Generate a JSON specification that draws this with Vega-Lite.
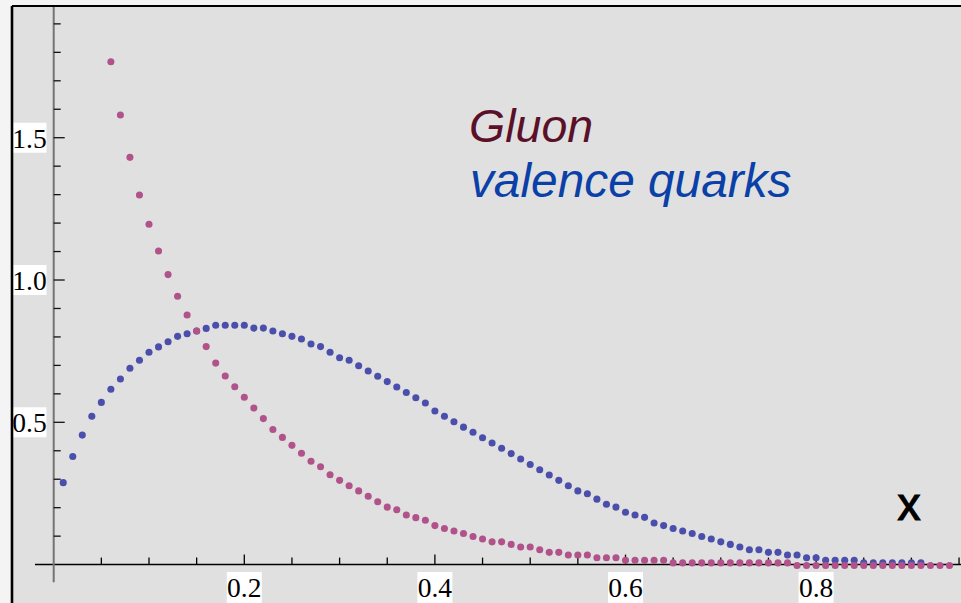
{
  "$schema": "https://vega.github.io/schema/vega-lite/v6.json",
  "width": 949,
  "height": 597,
  "autosize": "none",
  "padding": {"left": 12, "top": 6, "right": 0, "bottom": 0},
  "background": "#f4f4f4",
  "config": {"view": {"fill": "#e0e0e0", "stroke": null}, "axis": {"disable": true}, "legend": {"disable": true}},
  "datasets": {
    "pts": [
      {"s":"valence","x":0.01,"y":0.288},{"s":"valence","x":0.02,"y":0.380},{"s":"valence","x":0.03,"y":0.455},{"s":"valence","x":0.04,"y":0.521},{"s":"valence","x":0.05,"y":0.570},
      {"s":"valence","x":0.06,"y":0.616},{"s":"valence","x":0.07,"y":0.652},{"s":"valence","x":0.08,"y":0.690},{"s":"valence","x":0.09,"y":0.718},{"s":"valence","x":0.10,"y":0.746},
      {"s":"valence","x":0.11,"y":0.765},{"s":"valence","x":0.12,"y":0.783},{"s":"valence","x":0.13,"y":0.802},{"s":"valence","x":0.14,"y":0.811},{"s":"valence","x":0.15,"y":0.821},
      {"s":"valence","x":0.16,"y":0.830},{"s":"valence","x":0.17,"y":0.841},{"s":"valence","x":0.18,"y":0.841},{"s":"valence","x":0.19,"y":0.841},{"s":"valence","x":0.20,"y":0.841},
      {"s":"valence","x":0.21,"y":0.831},{"s":"valence","x":0.22,"y":0.831},{"s":"valence","x":0.23,"y":0.821},{"s":"valence","x":0.24,"y":0.811},{"s":"valence","x":0.25,"y":0.802},
      {"s":"valence","x":0.26,"y":0.793},{"s":"valence","x":0.27,"y":0.775},{"s":"valence","x":0.28,"y":0.766},{"s":"valence","x":0.29,"y":0.746},{"s":"valence","x":0.30,"y":0.727},
      {"s":"valence","x":0.31,"y":0.718},{"s":"valence","x":0.32,"y":0.699},{"s":"valence","x":0.33,"y":0.680},{"s":"valence","x":0.34,"y":0.662},{"s":"valence","x":0.35,"y":0.643},
      {"s":"valence","x":0.36,"y":0.624},{"s":"valence","x":0.37,"y":0.605},{"s":"valence","x":0.38,"y":0.586},{"s":"valence","x":0.39,"y":0.568},{"s":"valence","x":0.40,"y":0.540},
      {"s":"valence","x":0.41,"y":0.521},{"s":"valence","x":0.42,"y":0.502},{"s":"valence","x":0.43,"y":0.483},{"s":"valence","x":0.44,"y":0.465},{"s":"valence","x":0.45,"y":0.446},
      {"s":"valence","x":0.46,"y":0.427},{"s":"valence","x":0.47,"y":0.409},{"s":"valence","x":0.48,"y":0.390},{"s":"valence","x":0.49,"y":0.371},{"s":"valence","x":0.50,"y":0.352},
      {"s":"valence","x":0.51,"y":0.333},{"s":"valence","x":0.52,"y":0.315},{"s":"valence","x":0.53,"y":0.296},{"s":"valence","x":0.54,"y":0.277},{"s":"valence","x":0.55,"y":0.259},
      {"s":"valence","x":0.56,"y":0.249},{"s":"valence","x":0.57,"y":0.230},{"s":"valence","x":0.58,"y":0.212},{"s":"valence","x":0.59,"y":0.202},{"s":"valence","x":0.60,"y":0.184},
      {"s":"valence","x":0.61,"y":0.174},{"s":"valence","x":0.62,"y":0.166},{"s":"valence","x":0.63,"y":0.146},{"s":"valence","x":0.64,"y":0.137},{"s":"valence","x":0.65,"y":0.127},
      {"s":"valence","x":0.66,"y":0.118},{"s":"valence","x":0.67,"y":0.109},{"s":"valence","x":0.68,"y":0.099},{"s":"valence","x":0.69,"y":0.090},{"s":"valence","x":0.70,"y":0.080},
      {"s":"valence","x":0.71,"y":0.071},{"s":"valence","x":0.72,"y":0.062},{"s":"valence","x":0.73,"y":0.052},{"s":"valence","x":0.74,"y":0.052},{"s":"valence","x":0.75,"y":0.043},
      {"s":"valence","x":0.76,"y":0.043},{"s":"valence","x":0.77,"y":0.034},{"s":"valence","x":0.78,"y":0.034},{"s":"valence","x":0.79,"y":0.024},{"s":"valence","x":0.80,"y":0.024},
      {"s":"valence","x":0.81,"y":0.015},{"s":"valence","x":0.82,"y":0.015},{"s":"valence","x":0.83,"y":0.015},{"s":"valence","x":0.84,"y":0.015},{"s":"valence","x":0.85,"y":0.006},
      {"s":"valence","x":0.86,"y":0.006},{"s":"valence","x":0.87,"y":0.006},{"s":"valence","x":0.88,"y":0.006},{"s":"valence","x":0.89,"y":0.006},{"s":"valence","x":0.90,"y":0.006},
      {"s":"valence","x":0.91,"y":0.006},
      {"s":"gluon","x":0.06,"y":1.767},{"s":"gluon","x":0.07,"y":1.580},{"s":"gluon","x":0.08,"y":1.431},{"s":"gluon","x":0.09,"y":1.299},{"s":"gluon","x":0.10,"y":1.196},
      {"s":"gluon","x":0.11,"y":1.102},{"s":"gluon","x":0.12,"y":1.019},{"s":"gluon","x":0.13,"y":0.943},{"s":"gluon","x":0.14,"y":0.877},{"s":"gluon","x":0.15,"y":0.821},
      {"s":"gluon","x":0.16,"y":0.766},{"s":"gluon","x":0.17,"y":0.708},{"s":"gluon","x":0.18,"y":0.663},{"s":"gluon","x":0.19,"y":0.625},{"s":"gluon","x":0.20,"y":0.588},
      {"s":"gluon","x":0.21,"y":0.550},{"s":"gluon","x":0.22,"y":0.513},{"s":"gluon","x":0.23,"y":0.475},{"s":"gluon","x":0.24,"y":0.447},{"s":"gluon","x":0.25,"y":0.419},
      {"s":"gluon","x":0.26,"y":0.391},{"s":"gluon","x":0.27,"y":0.363},{"s":"gluon","x":0.28,"y":0.344},{"s":"gluon","x":0.29,"y":0.316},{"s":"gluon","x":0.30,"y":0.296},
      {"s":"gluon","x":0.31,"y":0.277},{"s":"gluon","x":0.32,"y":0.259},{"s":"gluon","x":0.33,"y":0.240},{"s":"gluon","x":0.34,"y":0.221},{"s":"gluon","x":0.35,"y":0.202},
      {"s":"gluon","x":0.36,"y":0.193},{"s":"gluon","x":0.37,"y":0.174},{"s":"gluon","x":0.38,"y":0.165},{"s":"gluon","x":0.39,"y":0.156},{"s":"gluon","x":0.40,"y":0.137},
      {"s":"gluon","x":0.41,"y":0.127},{"s":"gluon","x":0.42,"y":0.118},{"s":"gluon","x":0.43,"y":0.109},{"s":"gluon","x":0.44,"y":0.099},{"s":"gluon","x":0.45,"y":0.090},
      {"s":"gluon","x":0.46,"y":0.080},{"s":"gluon","x":0.47,"y":0.080},{"s":"gluon","x":0.48,"y":0.071},{"s":"gluon","x":0.49,"y":0.062},{"s":"gluon","x":0.50,"y":0.062},
      {"s":"gluon","x":0.51,"y":0.052},{"s":"gluon","x":0.52,"y":0.043},{"s":"gluon","x":0.53,"y":0.043},{"s":"gluon","x":0.54,"y":0.034},{"s":"gluon","x":0.55,"y":0.034},
      {"s":"gluon","x":0.56,"y":0.034},{"s":"gluon","x":0.57,"y":0.024},{"s":"gluon","x":0.58,"y":0.024},{"s":"gluon","x":0.59,"y":0.024},{"s":"gluon","x":0.60,"y":0.015},
      {"s":"gluon","x":0.61,"y":0.015},{"s":"gluon","x":0.62,"y":0.015},{"s":"gluon","x":0.63,"y":0.015},{"s":"gluon","x":0.64,"y":0.015},{"s":"gluon","x":0.65,"y":0.006},
      {"s":"gluon","x":0.66,"y":0.006},{"s":"gluon","x":0.67,"y":0.006},{"s":"gluon","x":0.68,"y":0.006},{"s":"gluon","x":0.69,"y":0.006},{"s":"gluon","x":0.70,"y":0.006},
      {"s":"gluon","x":0.71,"y":0.006},{"s":"gluon","x":0.72,"y":0.006},{"s":"gluon","x":0.73,"y":0.006},{"s":"gluon","x":0.74,"y":0.006},{"s":"gluon","x":0.75,"y":0.006},
      {"s":"gluon","x":0.76,"y":0.006},{"s":"gluon","x":0.77,"y":0.006},{"s":"gluon","x":0.78,"y":-0.003},{"s":"gluon","x":0.79,"y":-0.003},{"s":"gluon","x":0.80,"y":-0.003},
      {"s":"gluon","x":0.81,"y":-0.003},{"s":"gluon","x":0.82,"y":-0.003},{"s":"gluon","x":0.83,"y":-0.003},{"s":"gluon","x":0.84,"y":-0.003},{"s":"gluon","x":0.85,"y":-0.003},
      {"s":"gluon","x":0.86,"y":-0.003},{"s":"gluon","x":0.87,"y":-0.003},{"s":"gluon","x":0.88,"y":-0.003},{"s":"gluon","x":0.89,"y":-0.003},{"s":"gluon","x":0.90,"y":-0.003},
      {"s":"gluon","x":0.91,"y":-0.003},{"s":"gluon","x":0.92,"y":-0.003},{"s":"gluon","x":0.93,"y":-0.003},{"s":"gluon","x":0.94,"y":-0.003}
    ],
    "xmajor": [{"v":0.2,"t":"0.2"},{"v":0.4,"t":"0.4"},{"v":0.6,"t":"0.6"},{"v":0.8,"t":"0.8"}],
    "xminor": [{"v":0.05},{"v":0.1},{"v":0.15},{"v":0.25},{"v":0.3},{"v":0.35},{"v":0.45},{"v":0.5},{"v":0.55},{"v":0.65},{"v":0.7},{"v":0.75},{"v":0.85},{"v":0.9},{"v":0.95}],
    "ymajor": [{"v":0.5,"t":"0.5"},{"v":1.0,"t":"1.0"},{"v":1.5,"t":"1.5"}],
    "yminor": [{"v":0.1},{"v":0.2},{"v":0.3},{"v":0.4},{"v":0.6},{"v":0.7},{"v":0.8},{"v":0.9},{"v":1.1},{"v":1.2},{"v":1.3},{"v":1.4},{"v":1.6},{"v":1.7},{"v":1.8},{"v":1.9}]
  },
  "layer": [
    {
      "data": {"name": "xmajor"},
      "mark": {"type": "point", "shape": "M-1,-0.886H1V0.886H-1Z", "filled": true, "color": "#ffffff", "opacity": 1, "size": 1225},
      "encoding": {
        "x": {"field": "v", "type": "quantitative", "scale": {"domain": [-0.04376, 0.95205], "nice": false, "zero": false}},
        "y": {"datum": -0.0805, "type": "quantitative", "scale": {"domain": [-0.1349, 1.9628], "nice": false, "zero": false}}
      }
    },
    {
      "data": {"name": "xmajor"},
      "mark": {"type": "text", "font": "Liberation Serif", "fontSize": 27.5, "color": "#000000", "baseline": "middle", "align": "center", "dy": 1},
      "encoding": {
        "x": {"field": "v", "type": "quantitative", "scale": {"domain": [-0.04376, 0.95205], "nice": false, "zero": false}},
        "y": {"datum": -0.0805, "type": "quantitative", "scale": {"domain": [-0.1349, 1.9628], "nice": false, "zero": false}},
        "text": {"field": "t"}
      }
    },
    {
      "data": {"name": "ymajor"},
      "mark": {"type": "point", "shape": "M-1,-0.886H1V0.886H-1Z", "filled": true, "color": "#ffffff", "opacity": 1, "size": 1156},
      "encoding": {
        "x": {"datum": -0.0254, "type": "quantitative", "scale": {"domain": [-0.04376, 0.95205], "nice": false, "zero": false}},
        "y": {"field": "v", "type": "quantitative", "scale": {"domain": [-0.1349, 1.9628], "nice": false, "zero": false}}
      }
    },
    {
      "data": {"name": "ymajor"},
      "mark": {"type": "text", "font": "Liberation Serif", "fontSize": 27.5, "color": "#000000", "baseline": "middle", "align": "center", "dy": 2},
      "encoding": {
        "x": {"datum": -0.0254, "type": "quantitative", "scale": {"domain": [-0.04376, 0.95205], "nice": false, "zero": false}},
        "y": {"field": "v", "type": "quantitative", "scale": {"domain": [-0.1349, 1.9628], "nice": false, "zero": false}},
        "text": {"field": "t"}
      }
    },
    {
      "data": {"values": [{}]},
      "mark": {"type": "rule", "color": "#000000", "strokeWidth": 1.5},
      "encoding": {
        "x": {"datum": -0.0196, "type": "quantitative", "scale": {"domain": [-0.04376, 0.95205], "nice": false, "zero": false}},
        "x2": {"datum": 0.95205},
        "y": {"datum": 0, "type": "quantitative", "scale": {"domain": [-0.1349, 1.9628], "nice": false, "zero": false}}
      }
    },
    {
      "data": {"values": [{}]},
      "mark": {"type": "rule", "color": "#747474", "strokeWidth": 2},
      "encoding": {
        "x": {"datum": 0, "type": "quantitative", "scale": {"domain": [-0.04376, 0.95205], "nice": false, "zero": false}},
        "y": {"datum": -0.062, "type": "quantitative", "scale": {"domain": [-0.1349, 1.9628], "nice": false, "zero": false}},
        "y2": {"datum": 1.9628}
      }
    },
    {
      "data": {"name": "xminor"},
      "mark": {"type": "tick", "orient": "vertical", "size": 7, "thickness": 1.3, "yOffset": -3.5, "color": "#000000", "opacity": 1},
      "encoding": {
        "x": {"field": "v", "type": "quantitative", "scale": {"domain": [-0.04376, 0.95205], "nice": false, "zero": false}},
        "y": {"datum": 0, "type": "quantitative", "scale": {"domain": [-0.1349, 1.9628], "nice": false, "zero": false}}
      }
    },
    {
      "data": {"name": "xmajor"},
      "mark": {"type": "tick", "orient": "vertical", "size": 10, "thickness": 1.3, "yOffset": -5, "color": "#000000", "opacity": 1},
      "encoding": {
        "x": {"field": "v", "type": "quantitative", "scale": {"domain": [-0.04376, 0.95205], "nice": false, "zero": false}},
        "y": {"datum": 0, "type": "quantitative", "scale": {"domain": [-0.1349, 1.9628], "nice": false, "zero": false}}
      }
    },
    {
      "data": {"name": "yminor"},
      "mark": {"type": "tick", "orient": "horizontal", "size": 7, "thickness": 1.3, "xOffset": 3.5, "color": "#111111", "opacity": 1},
      "encoding": {
        "x": {"datum": 0, "type": "quantitative", "scale": {"domain": [-0.04376, 0.95205], "nice": false, "zero": false}},
        "y": {"field": "v", "type": "quantitative", "scale": {"domain": [-0.1349, 1.9628], "nice": false, "zero": false}}
      }
    },
    {
      "data": {"name": "ymajor"},
      "mark": {"type": "tick", "orient": "horizontal", "size": 11, "thickness": 1.3, "xOffset": 5.5, "color": "#111111", "opacity": 1},
      "encoding": {
        "x": {"datum": 0, "type": "quantitative", "scale": {"domain": [-0.04376, 0.95205], "nice": false, "zero": false}},
        "y": {"field": "v", "type": "quantitative", "scale": {"domain": [-0.1349, 1.9628], "nice": false, "zero": false}}
      }
    },
    {
      "data": {"name": "pts"},
      "mark": {"type": "point", "filled": true, "opacity": 1, "size": 50, "shape": "circle"},
      "encoding": {
        "x": {"field": "x", "type": "quantitative", "scale": {"domain": [-0.04376, 0.95205], "nice": false, "zero": false}},
        "y": {"field": "y", "type": "quantitative", "scale": {"domain": [-0.1349, 1.9628], "nice": false, "zero": false}},
        "color": {"field": "s", "type": "nominal", "scale": {"domain": ["valence", "gluon"], "range": ["#4b4fac", "#b2528a"]}, "legend": null}
      }
    },
    {
      "data": {"values": [{}]},
      "mark": {"type": "text", "text": "Gluon", "font": "Liberation Sans", "fontSize": 46.5, "fontStyle": "italic", "color": "#5a1028", "align": "left", "baseline": "alphabetic"},
      "encoding": {
        "x": {"datum": 0.4358, "type": "quantitative", "scale": {"domain": [-0.04376, 0.95205], "nice": false, "zero": false}},
        "y": {"datum": 1.4839, "type": "quantitative", "scale": {"domain": [-0.1349, 1.9628], "nice": false, "zero": false}}
      }
    },
    {
      "data": {"values": [{}]},
      "mark": {"type": "text", "text": "valence quarks", "font": "Liberation Sans", "fontSize": 47.8, "fontStyle": "italic", "color": "#0a40a8", "align": "left", "baseline": "alphabetic"},
      "encoding": {
        "x": {"datum": 0.4368, "type": "quantitative", "scale": {"domain": [-0.04376, 0.95205], "nice": false, "zero": false}},
        "y": {"datum": 1.2927, "type": "quantitative", "scale": {"domain": [-0.1349, 1.9628], "nice": false, "zero": false}}
      }
    },
    {
      "data": {"values": [{}]},
      "mark": {"type": "text", "text": "x", "font": "Liberation Sans", "fontSize": 46, "color": "#000000", "stroke": "#000000", "strokeWidth": 1.2, "align": "center", "baseline": "alphabetic"},
      "encoding": {
        "x": {"datum": 0.8975, "type": "quantitative", "scale": {"domain": [-0.04376, 0.95205], "nice": false, "zero": false}},
        "y": {"datum": 0.157, "type": "quantitative", "scale": {"domain": [-0.1349, 1.9628], "nice": false, "zero": false}}
      }
    },
    {
      "data": {"values": [{}]},
      "mark": {"type": "rule", "color": "#000000", "strokeWidth": 2.6},
      "encoding": {
        "x": {"datum": -0.04376, "type": "quantitative", "scale": {"domain": [-0.04376, 0.95205], "nice": false, "zero": false}}
      }
    },
    {
      "data": {"values": [{}]},
      "mark": {"type": "rule", "color": "#000000", "strokeWidth": 2.2},
      "encoding": {
        "y": {"datum": 1.9628, "type": "quantitative", "scale": {"domain": [-0.1349, 1.9628], "nice": false, "zero": false}}
      }
    }
  ]
}
